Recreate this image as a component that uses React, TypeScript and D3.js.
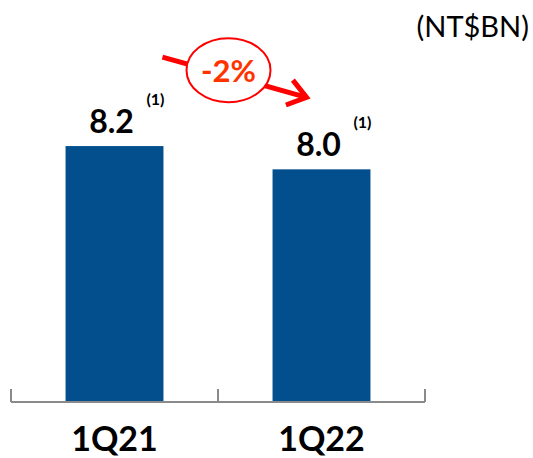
import React from "react";
import * as d3 from "d3";

const categories = ["1Q21", "1Q22"];
const values = [8.2, 8.0];
const valueLabels = ["8.2", "8.0"];
const footnotes = ["(1)", "(1)"];
const changeLabel = "-2%";
const unitLabel = "(NT$BN)";

const W = 533;
const H = 458;
const BAR = "#034F8E";
const RED = "#FF0000";
const FONT = "Lato, 'Open Sans', sans-serif";

export default function App() {
  const x = d3
    .scaleBand<string>()
    .domain(categories)
    .range([11, 425])
    .paddingInner(0.527)
    .paddingOuter(0.2635);
  const y = d3.scaleLinear().domain([6, 9]).range([402, 53]);
  const bw = x.bandwidth();
  const step = x.step();
  const gap = (step - bw) / 2;
  const tickXs = [
    ...categories.map((c) => (x(c) as number) - gap),
    (x(categories[categories.length - 1]) as number) + bw + gap,
  ];
  const baseY = y(6);

  // annotation anchored to bars
  const sx = (x(categories[0]) as number) + bw - 1;
  const sy = y(values[0]) - 89;
  const ex = (x(categories[1]) as number) + 34;
  const ey = y(values[1]) - 72;
  const ang = Math.atan2(ey - sy, ex - sx);
  const headLen = 22;
  const headAng = (36 * Math.PI) / 180;
  const w1 = [ex - headLen * Math.cos(ang - headAng), ey - headLen * Math.sin(ang - headAng)];
  const w2 = [ex - headLen * Math.cos(ang + headAng), ey - headLen * Math.sin(ang + headAng)];
  const cx = (sx + ex) / 2 - 6;
  const cy = (sy + ey) / 2 - 7;

  return (
    <svg
      width={W}
      height={H}
      style={{ position: "absolute", left: 0, top: 0, display: "block" }}
    >
      <rect width={W} height={H} fill="#fff" />
      <text x={529} y={37} textAnchor="end" fontFamily={FONT} fontSize={29} fill="#000">
        {unitLabel}
      </text>
      {categories.map((c, i) => {
        const bx = x(c) as number;
        const cxb = bx + bw / 2;
        const lb = y(values[i]) - 13;
        return (
          <g key={c}>
            <rect x={bx} y={y(values[i])} width={bw} height={baseY - y(values[i])} fill={BAR} />
            <text x={cxb - 3} y={lb} textAnchor="middle" fontFamily={FONT} fontWeight={700} fontSize={32} fill="#000">
              {valueLabels[i]}
            </text>
            <text x={cxb + 41} y={lb - 28} textAnchor="middle" fontFamily={FONT} fontWeight={700} fontSize={16} fill="#000">
              {footnotes[i]}
            </text>
            <text x={cxb} y={451} textAnchor="middle" fontFamily={FONT} fontWeight={700} fontSize={34} fill="#000">
              {c}
            </text>
          </g>
        );
      })}
      <line x1={tickXs[0]} x2={tickXs[tickXs.length - 1]} y1={baseY} y2={baseY} stroke="#8a8a8a" strokeWidth={2} />
      {tickXs.map((t, i) => (
        <line key={i} x1={t} x2={t} y1={baseY - 13} y2={baseY} stroke="#8a8a8a" strokeWidth={2} />
      ))}
      <line x1={sx} y1={sy} x2={ex - 2 * Math.cos(ang)} y2={ey - 2 * Math.sin(ang)} stroke={RED} strokeWidth={5} />
      <polyline
        points={`${w1[0]},${w1[1]} ${ex},${ey} ${w2[0]},${w2[1]}`}
        fill="none"
        stroke={RED}
        strokeWidth={5}
        strokeLinejoin="miter"
      />
      <ellipse cx={cx} cy={cy} rx={42} ry={32} fill="#fff" stroke={RED} strokeWidth={2} />
      <text x={cx} y={cy + 12} textAnchor="middle" fontFamily={FONT} fontWeight={700} fontSize={31} fill="#FF3300">
        {changeLabel}
      </text>
    </svg>
  );
}
